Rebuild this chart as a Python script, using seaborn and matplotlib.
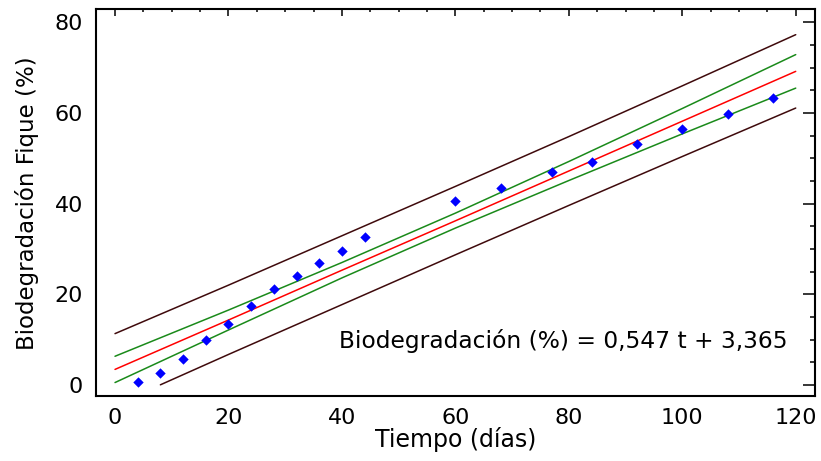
import matplotlib
matplotlib.use("Agg")
import matplotlib.pyplot as plt
from matplotlib.ticker import MultipleLocator
import seaborn as sns
import pandas as pd

tiempo = [4, 8, 12, 16, 20, 24, 28, 32, 36, 40, 44, 60, 68, 77, 84, 92, 100, 108, 116]
biodeg = [0.6, 2.7, 5.8, 9.8, 13.5, 17.3, 21.2, 24.0, 26.9, 29.5, 32.7,
          40.6, 43.4, 46.9, 49.2, 53.2, 56.5, 59.7, 63.4]

# Fitted line and bands
band_x = [0, 20, 40, 60, 80, 100, 120]
fit_y = [3.4, 14.3, 25.3, 36.2, 47.2, 58.2, 69.2]
conf_upper = [6.3, 16.5, 27.0, 37.9, 49.3, 61.0, 72.9]
conf_lower = [0.5, 12.1, 23.6, 34.6, 45.1, 55.4, 65.5]
pred_upper = [11.3, 22.0, 32.9, 43.8, 54.8, 66.0, 77.3]
pred_lower_x = [8, 20, 40, 60, 80, 100, 120]
pred_lower = [0.0, 6.7, 17.7, 28.7, 39.6, 50.4, 61.1]

x_ticks = [0, 20, 40, 60, 80, 100, 120]
y_ticks = [0, 20, 40, 60, 80]
equation = "Biodegradación (%) = 0,547 t + 3,365"

sns.set_theme(style="white")
plt.rcParams['font.family'] = ['DejaVu Sans']

fig = plt.figure(figsize=(8.21, 4.61), dpi=100)
ax = fig.add_axes([0.1166, 0.1417, 0.8761, 0.8381])

brown = "#3f0a0c"
green = "#1a8a1a"
lw = 1.1

sns.lineplot(x=band_x, y=pred_upper, color=brown, lw=lw, ax=ax)
sns.lineplot(x=pred_lower_x, y=pred_lower, color=brown, lw=lw, ax=ax)
sns.lineplot(x=band_x, y=conf_upper, color=green, lw=lw, ax=ax)
sns.lineplot(x=band_x, y=conf_lower, color=green, lw=lw, ax=ax)
sns.lineplot(x=band_x, y=fit_y, color="#ff0000", lw=lw, ax=ax)
sns.scatterplot(x=tiempo, y=biodeg, marker="D", s=28, color="#0000ff",
                linewidth=0, ax=ax, zorder=5)

ax.set_xlim(-3.4, 123.4)
ax.set_ylim(-2.4, 82.9)
ax.set_xticks(x_ticks)
ax.set_yticks(y_ticks)
ax.xaxis.set_minor_locator(MultipleLocator(5))
ax.yaxis.set_minor_locator(MultipleLocator(5))

ax.tick_params(axis='both', which='both', direction='in', top=True, right=True,
               colors='black', labelcolor='black', labelsize=16)
ax.tick_params(axis='x', which='major', length=5, width=1.1, pad=9)
ax.tick_params(axis='x', which='minor', length=2.5, width=1.1)
ax.tick_params(axis='y', which='major', length=9, width=1.1, pad=9)
ax.tick_params(axis='y', which='minor', length=3.6, width=1.1)

for sp in ax.spines.values():
    sp.set_color('black')
    sp.set_linewidth(1.5)

ax.set_xlabel("Tiempo (días)", fontsize=17, color='black')
ax.set_ylabel("Biodegradación Fique (%)", fontsize=16.5, color='black')
ax.xaxis.label.set_va('center')
ax.yaxis.label.set_va('center')
ax.xaxis.set_label_coords(0.5, -0.1147)
ax.yaxis.set_label_coords(-0.0955, 0.497)

ax.text(118.5, 9.7, equation, fontsize=16.8, ha='right', va='center', color='black')

fig.savefig("out.png", dpi=100)
